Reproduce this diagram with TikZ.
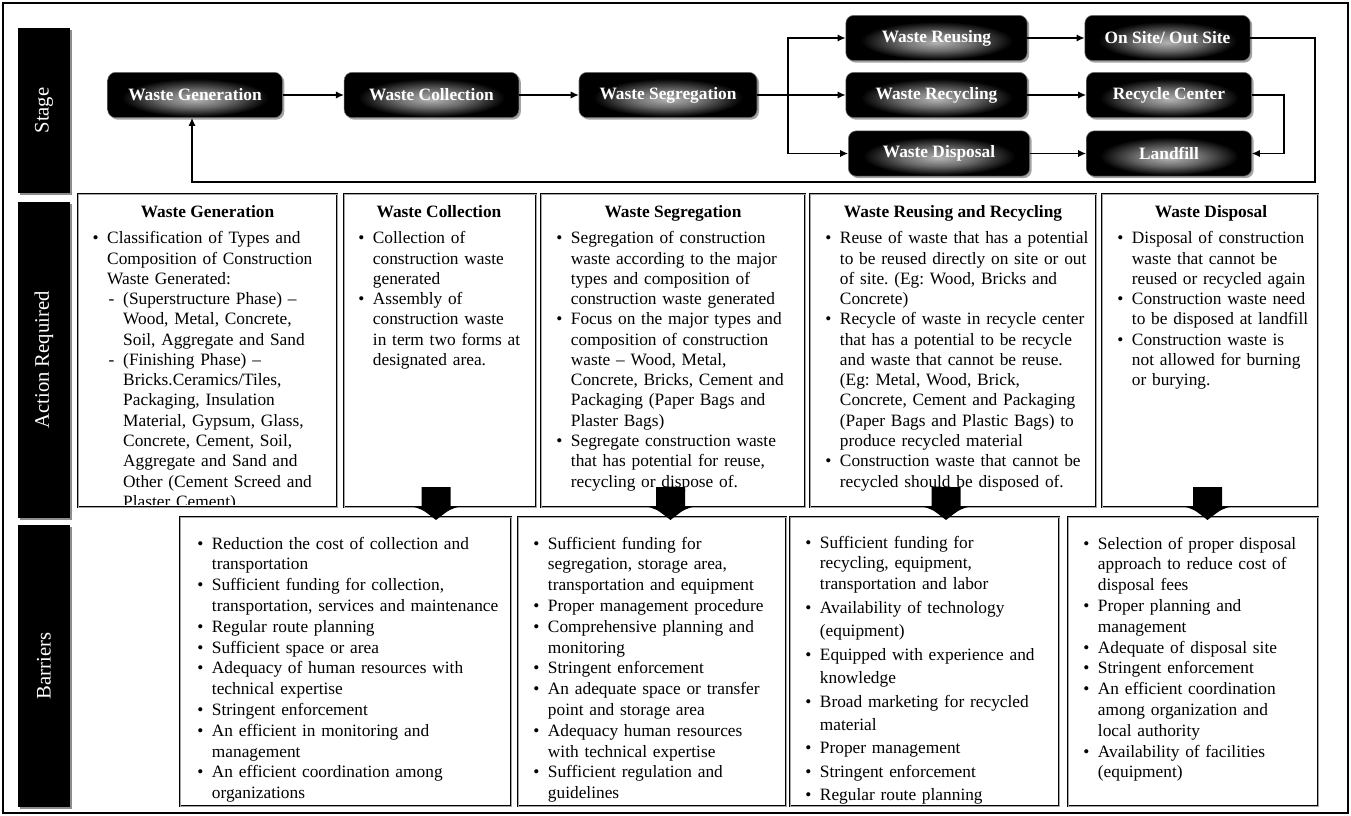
\documentclass[tikz,border=0pt]{standalone}
\usepackage{fontspec}
\setmainfont{Liberation Serif}
\usepackage{graphicx}
\usetikzlibrary{arrows.meta,shadows,calc}
\pgfdeclareradialshading{stageglow}{\pgfpoint{0bp}{-5bp}}{color(0bp)=(black!30); color(10bp)=(black!58); color(21bp)=(black); color(50bp)=(black)}
\newlength\bind \setlength\bind{11pt}
\newcommand\bitem[1]{\par\hangindent=\bind\hangafter=1\noindent\makebox[\bind][l]{\strut\textbullet}#1}
\newcommand\ditem[1]{\par\hangindent=23pt\hangafter=1\noindent\hspace*{12pt}\makebox[11pt][l]{\strut-}#1}
\newcommand\nl{\newline}
\frenchspacing
\begin{document}
\begin{tikzpicture}[x=0.75pt,y=-0.75pt,
 stg/.style={rounded corners=6pt, shading=stageglow, draw=black!55, line width=0.4pt, minimum height=34pt, inner sep=0pt, text=white, font=\fontsize{13}{15}\selectfont\bfseries, drop shadow={shadow xshift=1.5pt, shadow yshift=-1.5pt, fill=black!45, opacity=0.8}},
 lab/.style={fill=black, text=white, font=\fontsize{15.5}{18}\selectfont, minimum width=39pt, inner sep=0pt, drop shadow={shadow xshift=1.6pt, shadow yshift=-1.6pt, fill=black!45, opacity=1}},
 box/.style={draw=black, line width=0.8pt, double=black!35, double distance=0.6pt, inner sep=0pt},
 ttl/.style={anchor=base, font=\fontsize{13}{15}\selectfont\bfseries, inner sep=0pt},
 lst/.style={anchor=north west, inner sep=0pt, align=left, font=\fontsize{13}{15.2}\selectfont\frenchspacing},
 blst/.style={anchor=north west, inner sep=0pt, align=left, font=\fontsize{13}{15.6}\selectfont\frenchspacing},
 con/.style={line width=1pt, -{Latex[length=6pt,width=5.5pt]}},
 ln/.style={line width=1pt},
 blk/.style={fill=black}
]
\useasboundingbox (0,0) rectangle (1351,816);
\draw[line width=1pt] (3,3) rectangle (1348,813);

% side labels
\node[lab, minimum height=123.75pt] (lstage) at (44,110.5) {\rotatebox{90}{Stage}};
\node[lab, minimum height=237pt] (lact) at (44,360) {\rotatebox{90}{Action Required}};
\node[lab, minimum height=211.5pt] (lbar) at (44,666) {\rotatebox{90}{Barriers}};

% stage flow
\node[stg, minimum width=131pt] (gen) at (195,95) {Waste Generation};
\node[stg, minimum width=131pt] (col) at (431.5,95) {Waste Collection};
\node[stg, minimum width=133.5pt] (seg) at (668,95) {Waste Segregation};
\node[stg, minimum width=136pt] (reu) at (936.5,38) {Waste Reusing};
\node[stg, minimum width=136pt] (recy) at (936.5,95) {Waste Recycling};
\node[stg, minimum width=136pt] (dis) at (939,153.5) {Waste Disposal};
\node[stg, minimum width=124pt] (ons) at (1167.5,38) {On Site/ Out Site};
\node[stg, minimum width=124pt] (rc) at (1169,95) {Recycle Center};
\node[stg, minimum width=124pt] (lf) at (1169,153.5) {Landfill};

\coordinate (split) at (788,95);
\coordinate (rcR) at (1284,95);
\coordinate (fbR) at (1315,182);
\coordinate (fbL) at (192,182);

\draw[con] (gen) -- (col);
\draw[con] (col) -- (seg);
\draw[ln] (seg.east) -- (split);
\draw[con] (split) -- (recy.west);
\draw[con] (split) |- (reu.west);
\draw[con] (split) |- (dis.west);
\draw[con] (reu) -- (ons);
\draw[con] (recy) -- (rc);
\draw[con] (dis) -- (lf);
\draw[con] (rc.east) -- (rcR) |- (lf.east);
\draw[con] (ons.east) -| (fbR) -- (fbL) -- (fbL |- gen.south);

% action boxes
\node[box, minimum width=194.25pt, minimum height=234.75pt] (a1) at (207.5,350.5) {};
\node[box, minimum width=144pt, minimum height=234.75pt] (a2) at (440,350.5) {};
\node[box, minimum width=198pt, minimum height=234.75pt] (a3) at (673,350.5) {};
\node[box, minimum width=214.5pt, minimum height=234.75pt] (a4) at (953,350.5) {};
\node[box, minimum width=162pt, minimum height=234.75pt] (a5) at (1210,350.5) {};

\node[ttl] (h1) at (207.5,217.5) {Waste Generation};
\node[ttl] (h2) at (439,217.5) {Waste Collection};
\node[ttl] (h3) at (673,217.5) {Waste Segregation};
\node[ttl] (h4) at (953,217.5) {Waste Reusing and Recycling};
\node[ttl] (h5) at (1211,217.5) {Waste Disposal};

\begin{scope}
\clip (80,196) rectangle (335,504);
\node[lst, text width=200pt] (t1) at (92.3,223.3) {%
\bitem{Classification of Types and\nl Composition of Construction\nl Waste Generated:}
\ditem{(Superstructure Phase) –\nl Wood, Metal, Concrete,\nl Soil, Aggregate and Sand}
\ditem{(Finishing Phase) –\nl Bricks.Ceramics/Tiles,\nl Packaging, Insulation\nl Material, Gypsum, Glass,\nl Concrete, Cement, Soil,\nl Aggregate and Sand and\nl Other (Cement Screed and\nl Plaster Cement)}\par};
\end{scope}

\node[lst, text width=150pt] (t2) at (358,223.3) {%
\bitem{Collection of\nl construction waste\nl generated}
\bitem{Assembly of\nl construction waste\nl in term two forms at\nl designated area.}\par};

\node[lst, text width=205pt] (t3) at (556,223.3) {%
\bitem{Segregation of construction\nl waste according to the major\nl types and composition of\nl construction waste generated}
\bitem{Focus on the major types and\nl composition of construction\nl waste – Wood, Metal,\nl Concrete, Bricks, Cement and\nl Packaging (Paper Bags and\nl Plaster Bags)}
\bitem{Segregate construction waste\nl that has potential for reuse,\nl recycling or dispose of.}\par};

\node[lst, text width=220pt] (t4) at (825,223.3) {%
\bitem{Reuse of waste that has a potential\nl to be reused directly on site or out\nl of site. (Eg: Wood, Bricks and\nl Concrete)}
\bitem{Recycle of waste in recycle center\nl that has a potential to be recycle\nl and waste that cannot be reuse.\nl (Eg: Metal, Wood, Brick,\nl Concrete, Cement and Packaging\nl (Paper Bags and Plastic Bags) to\nl produce recycled material}
\bitem{Construction waste that cannot be\nl recycled should be disposed of.}\par};

\node[lst, text width=165pt] (t5) at (1117,223.3) {%
\bitem{Disposal of construction\nl waste that cannot be\nl reused or recycled again}
\bitem{Construction waste need\nl to be disposed at landfill}
\bitem{Construction waste is\nl not allowed for burning\nl or burying.}\par};

% barrier boxes
\node[box, minimum width=248.25pt, minimum height=216.75pt] (b1) at (345.5,661.5) {};
\node[box, minimum width=201pt, minimum height=216.75pt] (b2) at (652,661.5) {};
\node[box, minimum width=201.75pt, minimum height=216.75pt] (b3) at (924.5,661.5) {};
\node[box, minimum width=187.5pt, minimum height=216.75pt] (b4) at (1193,661.5) {};

\node[blst, text width=255pt] (u1) at (197,528) {%
\bitem{Reduction the cost of collection and\nl transportation}
\bitem{Sufficient funding for collection,\nl transportation, services and maintenance}
\bitem{Regular route planning}
\bitem{Sufficient space or area}
\bitem{Adequacy of human resources with\nl technical expertise}
\bitem{Stringent enforcement}
\bitem{An efficient in monitoring and\nl management}
\bitem{An efficient coordination among\nl organizations}\par};

\node[blst, text width=205pt] (u2) at (533,528) {%
\bitem{Sufficient funding for\nl segregation, storage area,\nl transportation and equipment}
\bitem{Proper management procedure}
\bitem{Comprehensive planning and\nl monitoring}
\bitem{Stringent enforcement}
\bitem{An adequate space or transfer\nl point and storage area}
\bitem{Adequacy human resources\nl with technical expertise}
\bitem{Sufficient regulation and\nl guidelines}\par};

\node[blst, text width=205pt] (u3) at (805,527) {%
\bitem{Sufficient funding for\nl recycling, equipment,\nl transportation and labor}\par
\setlength\baselineskip{17.6pt}%
\bitem{Availability of technology\nl (equipment)}
\bitem{Equipped with experience and\nl knowledge}
\bitem{Broad marketing for recycled\nl material}
\bitem{Proper management}
\bitem{Stringent enforcement}
\bitem{Regular route planning}\par};

\node[blst, text width=190pt] (u4) at (1083,528) {%
\bitem{Selection of proper disposal\nl approach to reduce cost of\nl disposal fees}
\bitem{Proper planning and\nl management}
\bitem{Adequate of disposal site}
\bitem{Stringent enforcement}
\bitem{An efficient coordination\nl among organization and\nl local authority}
\bitem{Availability of facilities\nl (equipment)}\par};

% block arrows from action boxes to barrier boxes
\foreach \c in {436,670.5,946,1207.5}{
 \fill[blk] (\c-14.5,487) -- (\c+14.5,487) -- (\c+14.5,506) -- (\c+26,506)
   .. controls (\c+14,509) .. (\c,520) .. controls (\c-14,509) .. (\c-26,506)
   -- (\c-14.5,506) -- cycle;
}
\end{tikzpicture}
\end{document}
